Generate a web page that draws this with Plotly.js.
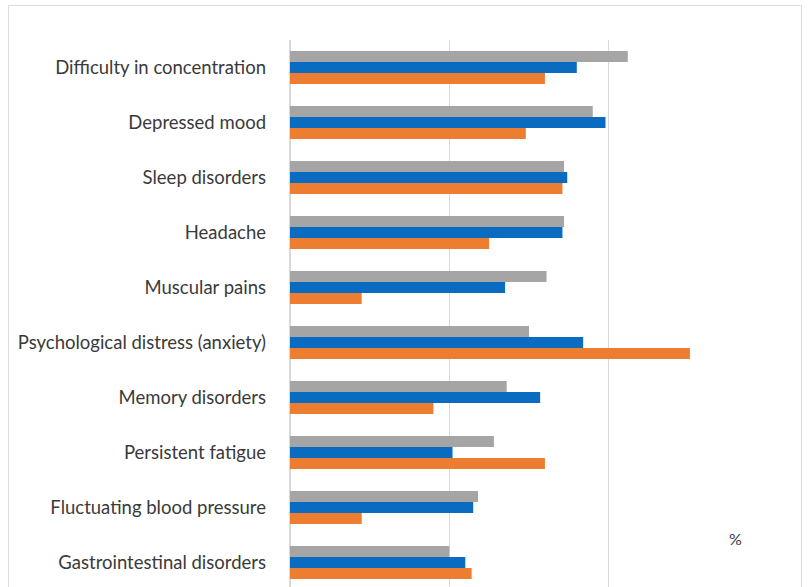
<!DOCTYPE html>
<html>
<head>
<meta charset="utf-8">
<script src="https://cdn.plot.ly/plotly-3.0.1.min.js"></script>
<style>
  html, body { margin: 0; padding: 0; background: #fff; }
  #wrap { position: relative; width: 810px; height: 587px; overflow: hidden; }
  #chart { width: 810px; height: 587px; }
  #frame { position: absolute; left: 8px; top: 5px; width: 792px; height: 620px;
           border: 1px solid #dcdcdc; pointer-events: none; }
</style>
</head>
<body>
<div id="wrap">
  <div id="chart"></div>
  <div id="frame"></div>
</div>
<script>
// Symptom categories, listed top to bottom
const categories = [
  "Difficulty in concentration",
  "Depressed mood",
  "Sleep disorders",
  "Headache",
  "Muscular pains",
  "Psychological distress (anxiety)",
  "Memory disorders",
  "Persistent fatigue",
  "Fluctuating blood pressure",
  "Gastrointestinal disorders"
];

// Percentages per series
const seriesGray   = [21.2, 19.0, 17.2, 17.2, 16.1, 15.0, 13.6, 12.8, 11.8, 10.0];
const seriesBlue   = [18.0, 19.8, 17.4, 17.1, 13.5, 18.4, 15.7, 10.2, 11.5, 11.0];
const seriesOrange = [16.0, 14.8, 17.1, 12.5,  4.5, 25.1,  9.0, 16.0,  4.5, 11.4];

const gridValues = [0, 10, 20, 30];

function barTrace(name, values, color) {
  return {
    type: 'bar',
    orientation: 'h',
    name: name,
    x: values,
    y: categories,
    marker: { color: color, line: { width: 0 } },
    hoverinfo: 'x+y'
  };
}

const data = [
  barTrace('Series 1', seriesGray, '#A5A5A5'),
  barTrace('Series 2', seriesBlue, '#0A6CC0'),
  barTrace('Series 3', seriesOrange, '#ED7D31')
];

const layout = {
  width: 810,
  height: 587,
  margin: { l: 290, r: 41.5, t: 40, b: 0, pad: 0 },
  paper_bgcolor: '#ffffff',
  plot_bgcolor: '#ffffff',
  showlegend: false,
  barmode: 'group',
  bargap: 0.4,
  bargroupgap: 0,
  font: { family: 'Lato, "Open Sans", sans-serif', color: '#3a3a3a' },
  xaxis: {
    range: [0, 30],
    tickvals: gridValues,
    showticklabels: false,
    showgrid: true,
    gridcolor: '#d9d9d9',
    gridwidth: 1.3,
    zeroline: true,
    zerolinecolor: '#d9d9d9',
    zerolinewidth: 1.3,
    showline: false,
    ticks: ''
  },
  yaxis: {
    type: 'category',
    categoryorder: 'array',
    categoryarray: categories,
    range: [9.445, -0.5],
    showgrid: false,
    zeroline: false,
    showline: false,
    ticks: '',
    ticklabelstandoff: 23,
    tickfont: { size: 18.5, color: '#3a3a3a', family: 'Lato, "Open Sans", sans-serif' }
  },
  annotations: [{
    text: '%',
    xref: 'paper', yref: 'paper',
    x: 0.932, y: 0.088,
    xanchor: 'center', yanchor: 'middle',
    showarrow: false,
    font: { size: 16, color: '#3a3a3a', family: 'Lato, sans-serif' }
  }]
};

Plotly.newPlot('chart', data, layout, { displayModeBar: false, staticPlot: true });
</script>
</body>
</html>
